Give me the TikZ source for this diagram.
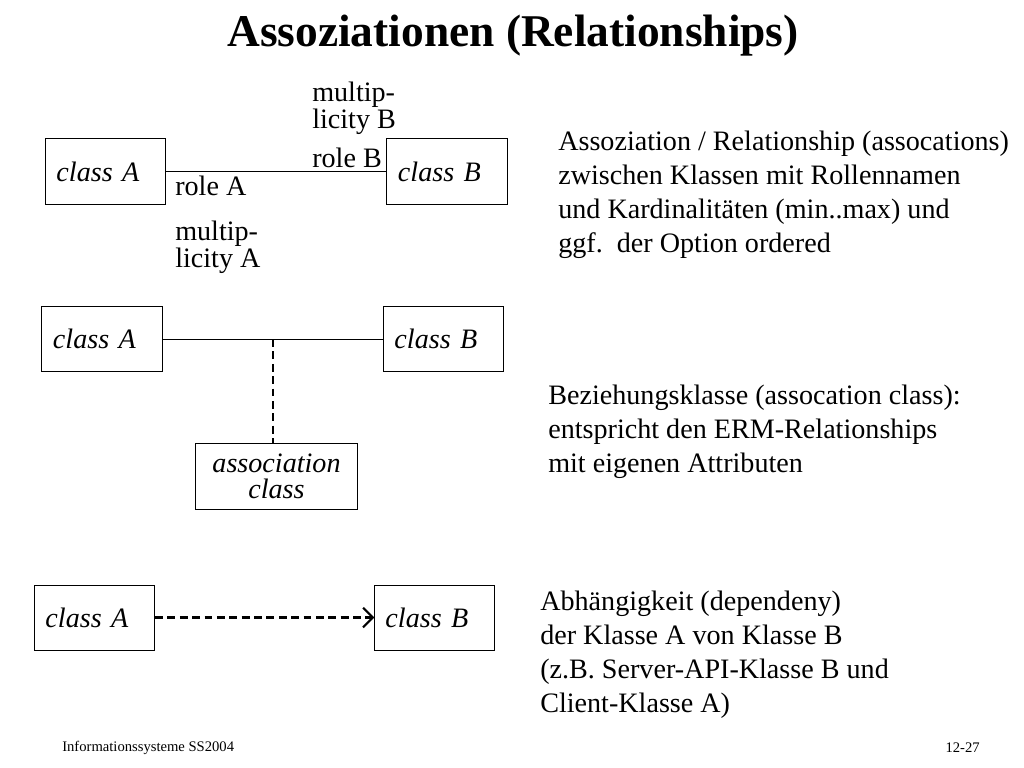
\documentclass[tikz,border=0pt]{standalone}
\usepackage{fontspec}
\setmainfont{Liberation Serif}
\usetikzlibrary{positioning,arrows.meta}

% plain open V tip for the dependency arrow
\pgfdeclarearrow{
  name = OpenVee,
  defaults = {length = 7pt, width = 14pt},
  parameters = {\the\pgfarrowlength,\the\pgfarrowwidth,\the\pgflinewidth},
  setup code = {
    \pgfarrowssettipend{0.5\pgflinewidth}
    \pgfarrowssetlineend{-0.5\pgflinewidth}
    \pgfarrowssetbackend{-\pgfarrowlength}
    \pgfarrowssavethe\pgfarrowlength
    \pgfarrowssavethe\pgfarrowwidth
  },
  drawing code = {
    \pgfsetdash{}{0pt}
    \pgfsetmiterjoin
    \pgfsetbuttcap
    \pgfpathmoveto{\pgfqpoint{-\pgfarrowlength}{.5\pgfarrowwidth}}
    \pgfpathlineto{\pgfqpoint{0pt}{0pt}}
    \pgfpathlineto{\pgfqpoint{-\pgfarrowlength}{-.5\pgfarrowwidth}}
    \pgfusepathqstroke
  }
}

\begin{document}
\begin{tikzpicture}[x=0.025cm, y=-0.025cm,
    classbox/.style={rectangle, draw, line width=0.7pt, minimum width=3cm, minimum height=1.625cm, text width=2.45cm, inner xsep=0.275cm, align=left, font=\fontsize{20}{23}\selectfont\itshape},
    assocbox/.style={rectangle, draw, line width=0.7pt, minimum width=4.025cm, minimum height=1.65cm, align=center, inner sep=2pt, font=\fontsize{20}{18.5}\selectfont\itshape},
    label/.style={inner sep=0pt, align=left, font=\fontsize{20}{15}\selectfont},
    remark/.style={inner sep=0pt, align=left, anchor=north west, font=\fontsize{20}{24.2}\selectfont},
    line/.style={draw, line width=0.7pt},
    dline/.style={draw, line width=1.5pt, dash pattern=on 5.6pt off 3.2pt},
    dep/.style={dline, -{OpenVee}}]

    \useasboundingbox (0,0) rectangle (1024,768);

    \node [font=\fontsize{32.3}{36}\selectfont\bfseries] (title) at (513,36) {Assoziationen (Relationships)};

    % association with roles and multiplicities
    \node [classbox] (a1) at (105.5,171.5) {class A};
    \node [classbox] (b1) at (447,171.5) {class B};
    \path [line] (a1) -- (b1);
    \node [label, anchor=north west] (multb) at (312,82) {multip-\\licity B};
    \node [label, anchor=base west] (roleb) at (312,168) {role B};
    \node [label, anchor=base west] (rolea) at (175,195) {role A};
    \node [label, anchor=north west] (multa) at (175,221) {multip-\\licity A};
    \node [remark] (txt1) at (558,131) {Assoziation / Relationship (assocations)\\zwischen Klassen mit Rollennamen\\und Kardinalitäten (min..max) und\\ggf.\ \ der Option ordered};

    % association class
    \node [classbox] (a2) at (102,339) {class A};
    \node [classbox] (b2) at (443.5,339) {class B};
    \path [line] (a2) -- coordinate (mid) (b2);
    \node [assocbox] (ac) at (276.5,476) {association\\class};
    \path [dline] (mid) -- (mid |- ac.north);
    \node [remark] (txt2) at (548,385) {Beziehungsklasse (assocation class):\\entspricht den ERM-Relationships\\mit eigenen Attributen};

    % dependency
    \node [classbox] (a3) at (94.5,617.5) {class A};
    \node [classbox] (b3) at (434.5,617.5) {class B};
    \path [dep] (a3) -- (b3);
    \node [remark] (txt3) at (540,591) {Abhängigkeit (dependeny)\\der Klasse A von Klasse B\\(z.B. Server-API-Klasse B und\\Client-Klasse A)};

    \node [font=\fontsize{10.4}{12}\selectfont, anchor=west, inner sep=0pt] (foot) at (62,748) {Informationssysteme SS2004};
    \node [font=\fontsize{10.4}{12}\selectfont, anchor=east, inner sep=0pt] (page) at (980,748) {12-27};
\end{tikzpicture}
\end{document}
